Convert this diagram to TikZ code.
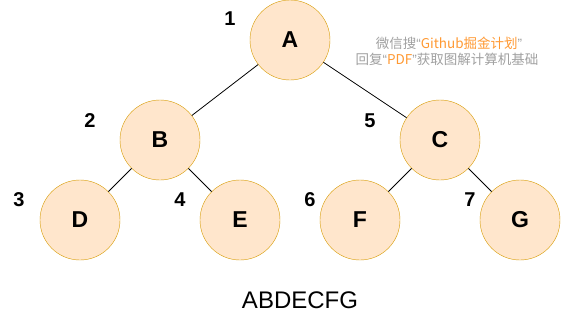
\documentclass[tikz,border=0pt]{standalone}
\usepackage{fontspec}
\setmainfont{Liberation Sans}
\newfontfamily\cjk{Noto Sans CJK SC}
\newfontfamily\latq{Liberation Sans}
\definecolor{nodefill}{HTML}{FFE6CC}
\definecolor{nodedraw}{HTML}{D79B00}
\definecolor{wmgray}{HTML}{A0A0A0}
\definecolor{wmorange}{HTML}{FF9933}
\newcommand{\wmlq}{{\latq “}}
\newcommand{\wmrq}{{\latq ”}}
\begin{document}
\begin{tikzpicture}[x=1pt,y=-1pt,
  tnode/.style={circle,draw=nodedraw,fill=nodefill,minimum size=80pt,inner sep=0pt,font=\fontsize{23}{26}\selectfont\bfseries},
  num/.style={font=\fontsize{20}{22}\selectfont\bfseries,inner sep=0pt},
  edge/.style={draw=black,line width=0.8pt},
  wm/.style={font=\cjk\fontsize{13.5}{15}\selectfont,text=wmgray,inner sep=0pt}]
\useasboundingbox (0,0) rectangle (561,316);
\node[tnode] (A) at (290,40) {A};
\node[tnode] (B) at (160,140) {B};
\node[tnode] (C) at (440,140) {C};
\node[tnode] (D) at (80,220) {D};
\node[tnode] (E) at (240,220) {E};
\node[tnode] (F) at (360,220) {F};
\node[tnode] (G) at (520,220) {G};
\draw[edge] (A) -- (B);
\draw[edge] (A) -- (C);
\draw[edge] (B) -- (D);
\draw[edge] (B) -- (E);
\draw[edge] (C) -- (F);
\draw[edge] (C) -- (G);
\node[num] (n1) at (230,19) {1};
\node[num] (n2) at (90,121) {2};
\node[num] (n5) at (370,121) {5};
\node[num] (n3) at (19,200) {3};
\node[num] (n4) at (180,200) {4};
\node[num] (n6) at (310,200) {6};
\node[num] (n7) at (470,200) {7};
\node[font=\fontsize{24}{27}\selectfont,inner sep=0pt] (res) at (300,300) {ABDECFG};
\node[wm] (w1) at (449,43) {微信搜\wmlq\textcolor{wmorange}{Github掘金计划}\wmrq};
\node[wm] (w2) at (447,59) {回复\wmlq\textcolor{wmorange}{PDF}\wmrq 获取图解计算机基础};
\end{tikzpicture}
\end{document}
